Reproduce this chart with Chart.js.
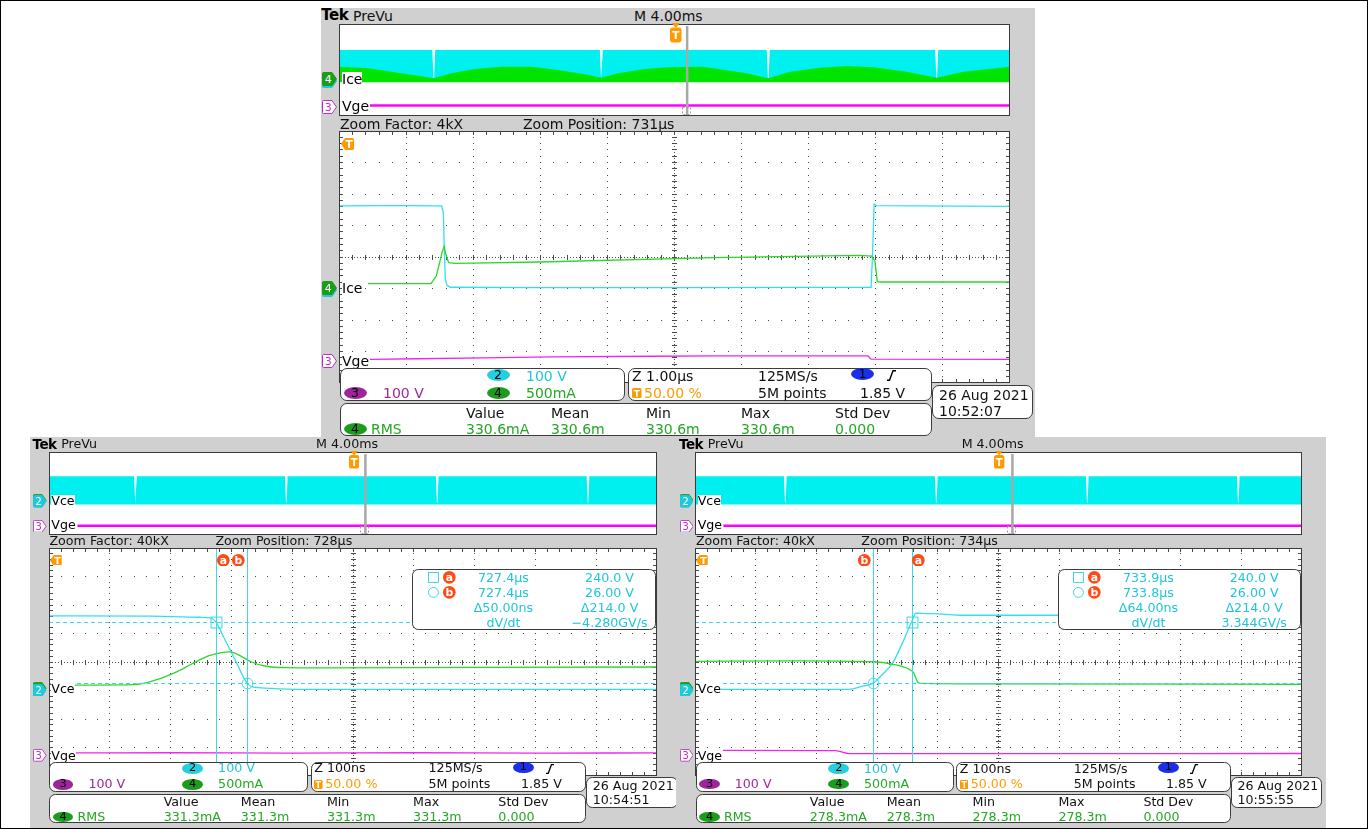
<!DOCTYPE html>
<html>
<head>
<meta charset="utf-8">
<title>IGBT switching – scope captures</title>
<script src="https://cdn.jsdelivr.net/npm/chart.js@4.4.1/dist/chart.umd.min.js"></script>
<style>
  html, body { margin: 0; padding: 0; background: #fff; }
  body { position: relative; width: 1368px; height: 829px; overflow: hidden;
         font-family: "DejaVu Sans", Verdana, sans-serif; }
  .abs { position: absolute; white-space: nowrap; line-height: 1; }
  canvas { position: absolute; background: #fff; }
  #frame { position: absolute; left: 0; top: 0; width: 1368px; height: 829px;
           box-sizing: border-box; border: 1px solid #000; z-index: 50; pointer-events: none; }
</style>
</head>
<body>
<div id="frame"></div>
<script>
// ---------- channel settings ----------
const CH2_V_DIV = 100;   // Vce, V/div
const CH4_MA_DIV = 500;  // Ic, mA/div
const CH3_V_DIV = 100;   // Vge, V/div
const CH2_GND = -1, CH4_GND = -1, CH3_GND = -3.25; // ground marker, divisions from centre

// ---------- overview strips (ms across the 40 ms record) ----------
const ovTopVceT = [0, 5.56, 5.63, 5.67, 5.74, 15.55, 15.62, 15.66, 15.73, 25.5, 25.57, 25.61, 25.68, 35.54, 35.61, 35.65, 35.72, 40];
const ovTopVce  = [274, 274, 30, 30, 274, 274, 30, 30, 274, 274, 30, 30, 274, 274, 30, 30, 274, 274];
const ovTopIcT  = [0.04, 1.73, 3.71, 5.11, 5.65, 6.69, 8.09, 9.67, 11.46, 13.05, 14.65, 15.64, 16.63, 18.22, 19.61, 21.6, 22.3, 24.3, 25.59, 26.89, 28.67, 30.27, 31.85, 33.84, 35.63, 37.22, 40];
const ovTopIc   = [643, 574, 357, 209, 139, 357, 543, 643, 643, 500, 313, 165, 357, 543, 617, 643, 574, 357, 139, 426, 600, 674, 617, 426, 165, 426, 643];
const ovTopVgeT = [1.85, 40];
const ovTopVge  = [16, 16];

const ovBlVceT = [0, 5.6, 5.67, 5.71, 5.78, 15.52, 15.59, 15.63, 15.7, 25.45, 25.52, 25.56, 25.63, 35.37, 35.44, 35.48, 35.55, 40];
const ovBlVce  = [267, 267, 12, 12, 267, 267, 12, 12, 267, 267, 12, 12, 267, 267, 12, 12, 267, 267];
const ovBlVgeT = [1.87, 40];
const ovBlVge  = [14, 14];

const ovBrVceT = [0, 5.86, 5.93, 5.97, 6.04, 15.81, 15.88, 15.92, 15.99, 25.76, 25.83, 25.87, 25.94, 35.71, 35.78, 35.82, 35.89, 40];
const ovBrVce  = [267, 267, 12, 12, 267, 267, 12, 12, 267, 267, 12, 12, 267, 267, 12, 12, 267, 267];
const ovBrVgeT = [1.87, 40];
const ovBrVge  = [14, 14];

// ---------- zoomed windows (ns from screen centre) ----------
// top: 1.00 us/div
const topVceT = [-5000, -4200, -3470, -3445, -3430, -3415, -3390, -3340, -2000, 0, 2000, 2930, 2950, 2975, 3010, 3600, 5000];
const topVce  = [262, 263, 262, 240, 120, 30, 10, 4, 3, 3, 3.5, 4, 100, 268, 263, 262, 261];
const topIcT  = [-4568, -3629, -3550, -3500, -3465, -3435, -3400, -3365, -3271, -2000, 600, 2760, 2939, 2988, 3022, 3063, 5000];
const topIc   = [78, 78, 198, 411, 570, 665, 516, 411, 400, 421, 490, 525, 515, 430, 110, 103, 103];
const topVgeT = [-4538, -3823, -2824, -1841, -350, 648, 2884, 2928, 5000];
const topVge  = [0, 2, 5, 8, 10, 10.8, 10.8, 0.5, 0.3];

// bottom left: 100 ns/div, turn-on edge
const blVceT = [-500, -334, -252, -233, -225, -211, -200, -189, -181, -174, -167, -156, -121, -55, 100, 300, 500];
const blVce  = [262, 261, 257, 254, 239, 180, 134, 86, 50, 25, 14, 10, 6, 4, 4, 4, 4];
const blIcT  = [-458, -359, -321, -293, -266, -238, -216, -203, -183, -167, -145, -112, -55, 200, 500];
const blIc   = [95, 102, 195, 313, 460, 606, 665, 676, 595, 500, 430, 401, 398, 405, 412];
const blVgeT = [-458, -300, -100, 100, 300, 500];
const blVge  = [6, 6.5, 5.5, 6.5, 5.5, 6];
const blCursorT = [-225, -174];   // cursor a, b
const blCursorV = [240, 26];

// bottom right: 100 ns/div, turn-off edge
const brVceT = [-460, -246, -224, -207, -191, -174, -158, -143, -136, -121, -92, -63, 500];
const brVce  = [4, 4, 15, 25, 57, 98, 168, 241, 271, 270, 268, 264, 264];
const brIcT  = [-500, -327, -207, -174, -147, -140, -133, -128, 2, 500];
const brIc   = [512, 521, 504, 460, 371, 313, 148, 125, 116, 107];
const brVgeT = [-454, -268, -246, 500];
const brVge  = [15, 14, 3.5, 4];
const brCursorT = [-143, -207];
const brCursorV = [240, 26];

const measHeads = ['Value', 'Mean', 'Min', 'Max', 'Std Dev'];
const topMeas = ['330.6mA', '330.6m', '330.6m', '330.6m', '0.000'];
const blMeas  = ['331.3mA', '331.3m', '331.3m', '331.3m', '0.000'];
const brMeas  = ['278.3mA', '278.3m', '278.3m', '278.3m', '0.000'];
const blReadout = ['727.4µs', '240.0 V', '727.4µs', '26.00 V', 'Δ50.00ns', 'Δ214.0 V', 'dV/dt', '−4.280GV/s'];
const brReadout = ['733.9µs', '240.0 V', '733.8µs', '26.00 V', 'Δ64.00ns', 'Δ214.0 V', 'dV/dt', '3.344GV/s'];

// ---------- helpers ----------
const xy = (ts, vs) => ts.map((t, i) => ({ x: t, y: vs[i] }));

const chanScales = {
  yV: { display: false, min: (-4 - CH2_GND) * CH2_V_DIV, max: (4 - CH2_GND) * CH2_V_DIV },
  yI: { display: false, min: (-4 - CH4_GND) * CH4_MA_DIV, max: (4 - CH4_GND) * CH4_MA_DIV },
  yG: { display: false, min: (-4 - CH3_GND) * CH3_V_DIV, max: (4 - CH3_GND) * CH3_V_DIV }
};

const CYAN = '#33dfee', GREEN = '#2cd82c', MAGENTA = '#f024f0';
const TXT_CYAN = '#1fc6d8', TXT_GREEN = '#22a822', TXT_PURPLE = '#a0269a', ORANGE = '#ff9a00';

// Tek style graticule: dotted divisions, ticked centre lines and edges
const graticule = {
  id: 'graticule',
  beforeDatasetsDraw(chart) {
    const { ctx, chartArea: a } = chart;
    const x = chart.scales.x, y = chart.scales.y;
    const dx = (x.max - x.min) / 10, dy = (y.max - y.min) / 8;
    const px = v => Math.floor(x.getPixelForValue(v)), py = v => Math.floor(y.getPixelForValue(v));
    const cx = px((x.min + x.max) / 2), cy = py((y.min + y.max) / 2);
    ctx.save();
    ctx.fillStyle = '#4a4a4a';
    for (let i = 1; i < 10; i++) {
      if (i === 5) continue;
      const gx = px(x.min + i * dx);
      for (let j = 1; j < 40; j++) ctx.fillRect(gx, py(y.min + j * dy / 5), 1, 1);
    }
    for (let j = 1; j < 8; j++) {
      if (j === 4) continue;
      const gy = py(y.min + j * dy);
      for (let i = 1; i < 50; i++) ctx.fillRect(px(x.min + i * dx / 5), gy, 1, 1);
    }
    for (let X = a.left; X < a.right; X += 3) ctx.fillRect(X, cy, 1, 1);
    for (let Y = a.top; Y < a.bottom; Y += 3) ctx.fillRect(cx, Y, 1, 1);
    for (let i = 1; i < 50; i++) {
      const tx = px(x.min + i * dx / 5);
      ctx.fillRect(tx, cy - 2, 1, 5);
      ctx.fillRect(tx, a.top, 1, 4);
      ctx.fillRect(tx, a.bottom - 4, 1, 4);
    }
    for (let j = 1; j < 40; j++) {
      const ty = py(y.min + j * dy / 5);
      ctx.fillRect(cx - 2, ty, 5, 1);
      ctx.fillRect(a.left, ty, 4, 1);
      ctx.fillRect(a.right - 4, ty, 4, 1);
    }
    ctx.restore();
  },
  afterDraw(chart) {
    const { ctx, chartArea: a } = chart;
    ctx.save();
    ctx.strokeStyle = '#3a3a3a';
    ctx.strokeRect(a.left + 0.5, a.top + 0.5, a.right - a.left - 1, a.bottom - a.top - 1);
    ctx.restore();
  }
};

// cursor a (square) and b (circle): vertical time lines + dashed level lines
const cursors = {
  id: 'cursors',
  afterDatasetsDraw(chart, args, o) {
    if (!o.t) return;
    const { ctx, chartArea: a } = chart;
    const x = chart.scales.x, yv = chart.scales.yV;
    ctx.save();
    ctx.strokeStyle = '#3ad8e8';
    ctx.lineWidth = 1;
    o.t.forEach((t, i) => {
      const X = Math.round(x.getPixelForValue(t)) + 0.5;
      const Y = Math.round(yv.getPixelForValue(o.v[i])) + 0.5;
      ctx.setLineDash([]);
      ctx.beginPath(); ctx.moveTo(X, a.top); ctx.lineTo(X, a.bottom); ctx.stroke();
      ctx.setLineDash([4, 3]);
      ctx.beginPath(); ctx.moveTo(a.left, Y); ctx.lineTo(a.right, Y); ctx.stroke();
      ctx.setLineDash([]);
      if (i === 0) ctx.strokeRect(X - o.r, Y - o.r, 2 * o.r, 2 * o.r);
      else { ctx.beginPath(); ctx.arc(X, Y, o.r, 0, Math.PI * 2); ctx.stroke(); }
    });
    ctx.restore();
  }
};

// overview: trigger position line, little bracket, frame
const ovMarks = {
  id: 'ovMarks',
  afterDraw(chart, args, o) {
    const { ctx, chartArea: a } = chart;
    const X = chart.scales.x.getPixelForValue(o.trig);
    ctx.save();
    ctx.fillStyle = '#a8a8a8';
    ctx.fillRect(X - 1, a.top + 2, 2.5, a.bottom - a.top - 2);
    ctx.strokeStyle = '#9a9a9a';
    ctx.setLineDash([2, 2]);
    ctx.strokeRect(Math.round(X) - 4.5, a.bottom - 8.5, 8, 7);
    ctx.setLineDash([]);
    ctx.strokeStyle = '#3a3a3a';
    ctx.strokeRect(a.left + 0.5, a.top + 0.5, a.right - a.left - 1, a.bottom - a.top - 1);
    ctx.restore();
  }
};

function scope(c) {
  const k = (c.sx + c.sy) / 2;
  const X = u => c.x0 + u * c.sx, Y = v => c.y0 + v * c.sy;

  function add(css, html) {
    const e = document.createElement('div');
    e.className = 'abs';
    Object.assign(e.style, css);
    if (html != null) e.innerHTML = html;
    document.body.appendChild(e);
    return e;
  }
  function text(s, u, v, color, o) {
    o = o || {};
    const f = (o.size || 14) * k;
    const e = add({ left: X(u) + 'px', top: (Y(v) - 0.48 * f) + 'px', fontSize: f + 'px', color: color || '#111' });
    e.textContent = s;
    if (o.bold) { e.style.fontWeight = 'bold'; e.style.letterSpacing = '-0.5px'; }
    if (o.mid) e.style.transform = 'translateX(-50%)';
    if (o.bg) e.style.background = o.bg;
    return e;
  }
  function box(u1, v1, u2, v2, r) {
    return add({ left: X(u1) + 'px', top: Y(v1) + 'px', width: (X(u2) - X(u1)) + 'px', height: (Y(v2) - Y(v1)) + 'px',
      background: '#fff', border: '1px solid #3c3c3c', borderRadius: r * k + 'px', boxSizing: 'border-box' });
  }
  function pill(s, u, v, bg) {
    const w = 23 * k, h = 12 * k;
    const e = add({ left: (X(u) - w / 2) + 'px', top: (Y(v) - h / 2) + 'px', width: w + 'px', height: h + 'px',
      lineHeight: h + 'px', borderRadius: '50%', background: bg, color: '#000', fontSize: 12.5 * k + 'px', textAlign: 'center' });
    e.textContent = s;
  }
  function icon(u, v, w, h, inner) {
    add({ left: X(u) + 'px', top: Y(v) + 'px', width: w * k + 'px', height: h * k + 'px' },
      `<svg width="${w * k}" height="${h * k}" viewBox="0 0 ${w} ${h}" style="display:block" font-family="DejaVu Sans">${inner}</svg>`);
  }
  function canvas(u1, v1, u2, v2) {
    const l = Math.round(X(u1)), t = Math.round(Y(v1));
    const w = Math.round(X(u2)) - l, h = Math.round(Y(v2)) - t;
    const cv = document.createElement('canvas');
    cv.width = w; cv.height = h;
    cv.style.left = l + 'px'; cv.style.top = t + 'px';
    document.body.appendChild(cv);
    return cv;
  }
  const chanMarker = (u, v, fill, stroke, tc, d) => icon(u, v, 15, 14,
    `<path d="M1.5 0.5 H10 L14.5 7 L10 13.5 H1.5 Q0.5 13.5 0.5 12.5 V1.5 Q0.5 0.5 1.5 0.5Z" fill="${fill}" stroke="${stroke}"/>` +
    `<text x="6.3" y="11.3" font-size="11" text-anchor="middle" fill="${tc}">${d}</text>`);
  const abLabel = (s, u, v) => icon(u - 7, v - 7, 14, 14,
    `<circle cx="7" cy="7" r="7" fill="#ff4a14"/><text x="7" y="11.2" font-size="12" font-weight="bold" text-anchor="middle" fill="#fff">${s}</text>`);

  const base = { responsive: false, animation: false, events: [], devicePixelRatio: 1, layout: { padding: 0 } };
  const lineSet = (t, v, axis, color, w, smooth) => ({ data: xy(t, v), yAxisID: axis, borderColor: color, borderWidth: w,
    pointRadius: 0, fill: false, tension: 0, cubicInterpolationMode: smooth ? 'monotone' : 'default' });

  // panel background and header
  add({ left: c.bg[0] + 'px', top: c.bg[1] + 'px', width: (c.bg[2] - c.bg[0]) + 'px', height: (c.bg[3] - c.bg[1]) + 'px', background: '#d0d0d0' });
  text('Tek', -17.7, -8.5, '#000', { size: 15, bold: true });
  text('PreVu', 14, -8.5);
  text('M 4.00ms', 295, -8.5);

  // overview strip
  const ovSets = [lineSet(c.ov.vge[0], c.ov.vge[1], 'yG', '#ff00ff', 2.5)];
  if (c.ov.ic) ovSets.push({ data: xy(c.ov.ic[0], c.ov.ic[1]), yAxisID: 'yI', borderWidth: 0, pointRadius: 0, tension: 0,
    backgroundColor: '#00e400', fill: { value: -30 } });
  ovSets.push({ data: xy(c.ov.vce[0], c.ov.vce[1]), yAxisID: 'yV', borderWidth: 0, pointRadius: 0, tension: 0,
    backgroundColor: '#00f0f0', fill: { value: -5 } });
  new Chart(canvas(0, 0, 671, 92), {
    type: 'line',
    data: { datasets: ovSets },
    options: Object.assign({}, base, {
      plugins: { legend: { display: false }, tooltip: { enabled: false }, ovMarks: { trig: c.trigMs } },
      scales: Object.assign({ x: { type: 'linear', display: false, min: 0, max: 40 } }, chanScales)
    }),
    plugins: [ovMarks]
  });

  // main zoomed graticule
  const mainSets = [
    lineSet(c.main.vge[0], c.main.vge[1], 'yG', MAGENTA, 1.3, c.smooth),
    lineSet(c.main.ic[0], c.main.ic[1], 'yI', GREEN, 1.3, c.smooth),
    lineSet(c.main.vce[0], c.main.vce[1], 'yV', CYAN, 1.3, c.smooth)
  ];
  new Chart(canvas(0, 107, 671, 359), {
    type: 'line',
    data: { datasets: mainSets },
    options: Object.assign({}, base, {
      plugins: { legend: { display: false }, tooltip: { enabled: false },
        cursors: c.cursorT ? { t: c.cursorT, v: c.cursorV, r: 6 * k } : {} },
      scales: Object.assign({
        x: { type: 'linear', display: false, min: -c.span, max: c.span },
        y: { display: false, min: -4, max: 4 }
      }, chanScales)
    }),
    plugins: [graticule, cursors]
  });

  // channel markers and labels
  const fillA = c.chan === '4' ? '#1a9e1a' : '#1ec9dc';
  const fillB = c.chan === '4' ? '#1ec9dc' : '#1a9e1a';
  [[48, 55], [257, 263.5]].forEach(([v, lv]) => {
    chanMarker(-17, v + (c.chan === '4' ? 1.5 : -1.5), fillB, fillB, '#fff', '');
    chanMarker(-17, v, fillA, fillA, '#fff', c.chan);
    text(c.label, 3, lv, '#000', { bg: '#fff' });
  });
  [[75.5, 81.5], [330, 337]].forEach(([v, lv]) => {
    chanMarker(-17, v, '#fff', '#c030c0', '#c030c0', '3');
    text('Vge', 3, lv, '#000', { bg: '#fff' });
  });

  // trigger markers
  icon(331, -1, 11.5, 20,
    `<path d="M1.5 0 H10 L5.75 5 Z" fill="${ORANGE}"/><rect x="0" y="4.5" width="11.5" height="15" rx="3" fill="${ORANGE}"/>` +
    `<text x="5.75" y="16.3" font-size="11" font-weight="bold" text-anchor="middle" fill="#fff">T</text>`);
  icon(1.5, 114, 13, 12,
    `<path d="M0 6 L4 0 H11.5 Q13 0 13 1.5 V10.5 Q13 12 11.5 12 H4 Z" fill="${ORANGE}"/>` +
    `<text x="8.2" y="10.4" font-size="10.5" font-weight="bold" text-anchor="middle" fill="#fff">T</text>`);

  text('Zoom Factor: ' + c.zoomFactor, 1, 99.5);
  text('Zoom Position: ' + c.zoomPos, 184, 99.5);

  // cursor labels and readout
  if (c.readout) {
    abLabel('a', c.labA, 120);
    abLabel('b', c.labB, 120);
    box(401, 129.5, 670, 197.5, 7);
    icon(418.5, 133.7, 12, 12, `<rect x="0.5" y="0.5" width="11" height="11" fill="none" stroke="#2dd0e0"/>`);
    icon(418.5, 150.4, 12, 12, `<circle cx="6" cy="6" r="5.5" fill="none" stroke="#2dd0e0"/>`);
    abLabel('a', 442, 139.7);
    abLabel('b', 442, 156.4);
    [139.7, 156.4, 173, 189.6].forEach((v, i) => {
      text(c.readout[2 * i], 501.6, v, TXT_CYAN, { mid: true });
      text(c.readout[2 * i + 1], 618.6, v, TXT_CYAN, { mid: true });
    });
  }

  // info boxes
  box(1, 344, 286, 377, 7);
  box(289, 344, 593, 377, 7);
  box(1, 379, 593, 412, 7);
  box(593, 361, 694, 395, 7);
  pill('2', 159, 351.3, '#22d0e0'); text('100 V', 187, 351.3, TXT_CYAN);
  pill('3', 16, 368.5, '#9e249a'); text('100 V', 44, 368.5, TXT_PURPLE);
  pill('4', 159, 368.5, '#1c9c1c'); text('500mA', 187, 368.5, TXT_GREEN);
  text(c.timeDiv, 293, 351.3);
  icon(293, 363.5, 9.5, 10, `<rect width="9.5" height="10" rx="1.5" fill="${ORANGE}"/>` +
    `<text x="4.75" y="8.8" font-size="9" font-weight="bold" text-anchor="middle" fill="#fff">T</text>`);
  text('50.00 %', 305, 368.5, ORANGE);
  text('125MS/s', 419, 351.3);
  text('5M points', 419, 368.5);
  pill('1', 523.5, 350, '#1a30e8');
  icon(548, 346, 9, 11, `<path d="M0 10.3 H2.5 L6 0.8 H9" fill="none" stroke="#000" stroke-width="1.4"/>`);
  text('1.85 V', 521, 368.5);
  const cols = [127, 212, 307, 402, 496];
  measHeads.forEach((s, i) => text(s, cols[i], 388.7));
  pill('4', 16, 405, '#1c9c1c');
  text('RMS', 32, 405, TXT_GREEN);
  c.meas.forEach((s, i) => text(s, cols[i], 405, TXT_GREEN));
  text(c.date, 600, 370.3);
  text(c.time, 600, 386.7);
}

scope({
  x0: 339, y0: 24, sx: 1, sy: 1, bg: [321, 8, 1035, 437],
  zoomFactor: '4kX', zoomPos: '731µs', chan: '4', label: 'Ice', trigMs: 20.74, span: 5000, smooth: false,
  ov: { vce: [ovTopVceT, ovTopVce], ic: [ovTopIcT, ovTopIc], vge: [ovTopVgeT, ovTopVge] },
  main: { vce: [topVceT, topVce], ic: [topIcT, topIc], vge: [topVgeT, topVge] },
  timeDiv: 'Z 1.00µs', meas: topMeas, date: '26 Aug 2021', time: '10:52:07'
});
scope({
  x0: 48.5, y0: 451.7, sx: 0.907, sy: 0.902, bg: [30, 437, 683, 829],
  zoomFactor: '40kX', zoomPos: '728µs', chan: '2', label: 'Vce', trigMs: 20.8, span: 500, smooth: true,
  ov: { vce: [ovBlVceT, ovBlVce], vge: [ovBlVgeT, ovBlVge] },
  main: { vce: [blVceT, blVce], ic: [blIcT, blIc], vge: [blVgeT, blVge] },
  cursorT: blCursorT, cursorV: blCursorV, labA: 192.7, labB: 209.2, readout: blReadout,
  timeDiv: 'Z 100ns', meas: blMeas, date: '26 Aug 2021', time: '10:54:51'
});
scope({
  x0: 695, y0: 451.7, sx: 0.904, sy: 0.902, bg: [676, 437, 1326, 829],
  zoomFactor: '40kX', zoomPos: '734µs', chan: '2', label: 'Vce', trigMs: 20.9, span: 500, smooth: true,
  ov: { vce: [ovBrVceT, ovBrVce], vge: [ovBrVgeT, ovBrVge] },
  main: { vce: [brVceT, brVce], ic: [brIcT, brIc], vge: [brVgeT, brVge] },
  cursorT: brCursorT, cursorV: brCursorV, labA: 247, labB: 187.3, readout: brReadout,
  timeDiv: 'Z 100ns', meas: brMeas, date: '26 Aug 2021', time: '10:55:55'
});
</script>
</body>
</html>
